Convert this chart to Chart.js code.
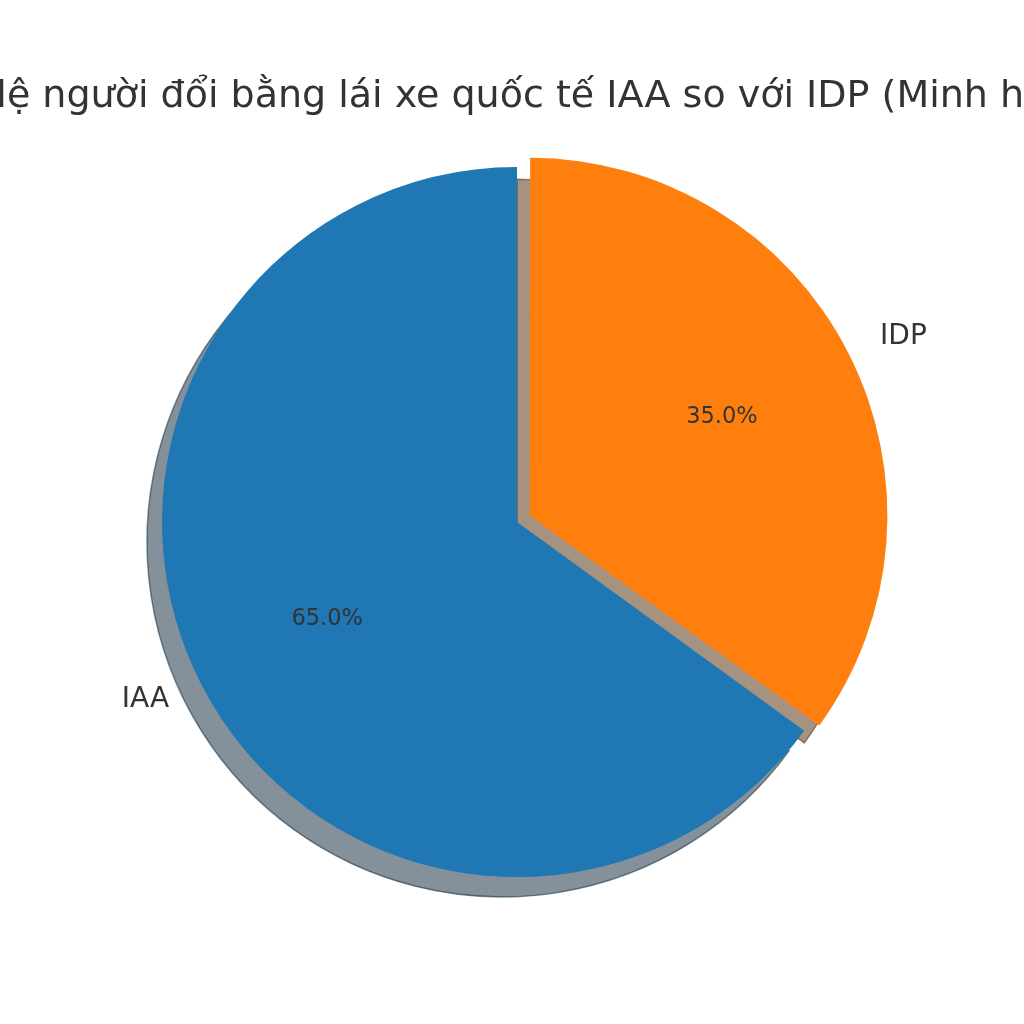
<!DOCTYPE html>
<html>
<head>
<meta charset="utf-8">
<title>Tỷ lệ IAA / IDP</title>
<script src="https://cdn.jsdelivr.net/npm/chart.js@4.4.1/dist/chart.umd.min.js"></script>
<style>
  html, body { margin: 0; padding: 0; background: #fff; }
  #pieChart { display: block; }
</style>
</head>
<body>
<canvas id="pieChart" width="1024" height="1024"></canvas>
<script>
// Dữ liệu
const titleText = 'Tỷ lệ người đổi bằng lái xe quốc tế IAA so với IDP (Minh họa)';
const labels = ['IAA', 'IDP'];
const values = [65, 35];
const colors = ['#1f77b4', '#ff7f0e'];
const shadeColors = ['rgba(9, 36, 54, 0.5)', 'rgba(77, 38, 4, 0.5)'];

const FONT = "'DejaVu Sans', sans-serif";
const textColor = '#333333';

// Chart.js dịch cung theo offset/4 cộng phần bù bán kính, tính lại giống vậy
function arcShift(arc) {
  const offset = (arc.options.offset || 0) / 4;
  const fix = 1 - Math.sin(Math.min(Math.PI, arc.circumference || 0));
  return offset * (1 + fix);
}

function arcGeom(arc) {
  const { x, y, startAngle, endAngle, outerRadius } = arc.getProps(['x', 'y', 'startAngle', 'endAngle', 'outerRadius'], true);
  const mid = (startAngle + endAngle) / 2;
  const shift = arcShift(arc);
  return {
    cx: x + Math.cos(mid) * shift,
    cy: y + Math.sin(mid) * shift,
    startAngle, endAngle, outerRadius, mid
  };
}

// Tiêu đề (không co chữ, bị cắt ở hai bên như ảnh gốc)
const titlePlugin = {
  id: 'bigTitle',
  afterDraw(chart) {
    const ctx = chart.ctx;
    ctx.save();
    ctx.font = `38px ${FONT}`;
    ctx.fillStyle = textColor;
    ctx.textAlign = 'center';
    ctx.textBaseline = 'alphabetic';
    ctx.fillText(titleText, 512, 107);
    ctx.restore();
  }
};

// Bóng đổ kiểu matplotlib (shadow=True)
const shadowPlugin = {
  id: 'pieShadow',
  beforeDatasetsDraw(chart) {
    const ctx = chart.ctx;
    const meta = chart.getDatasetMeta(0);
    meta.data.forEach((arc, i) => {
      const g = arcGeom(arc);
      const cx = g.cx - 15;
      const cy = g.cy + 20;
      ctx.save();
      ctx.beginPath();
      ctx.moveTo(cx, cy);
      ctx.arc(cx, cy, g.outerRadius, g.startAngle, g.endAngle);
      ctx.closePath();
      ctx.fillStyle = shadeColors[i];
      ctx.fill();
      ctx.lineWidth = 1.5;
      ctx.strokeStyle = shadeColors[i];
      ctx.stroke();
      ctx.restore();
    });
  }
};

// Nhãn và phần trăm
const labelPlugin = {
  id: 'pieLabels',
  afterDatasetsDraw(chart) {
    const ctx = chart.ctx;
    const meta = chart.getDatasetMeta(0);
    const total = values.reduce((a, b) => a + b, 0);
    meta.data.forEach((arc, i) => {
      const g = arcGeom(arc);
      const cos = Math.cos(g.mid), sin = Math.sin(g.mid);

      ctx.save();
      ctx.fillStyle = textColor;
      ctx.textBaseline = 'middle';

      ctx.font = `28px ${FONT}`;
      ctx.textAlign = cos >= 0 ? 'left' : 'right';
      ctx.fillText(labels[i], g.cx + cos * g.outerRadius * 1.1, g.cy + sin * g.outerRadius * 1.1);

      ctx.font = `22.5px ${FONT}`;
      ctx.textAlign = 'center';
      const pct = (values[i] / total * 100).toFixed(1) + '%';
      ctx.fillText(pct, g.cx + cos * g.outerRadius * 0.6, g.cy + sin * g.outerRadius * 0.6);
      ctx.restore();
    });
  }
};

const ctx = document.getElementById('pieChart').getContext('2d');
new Chart(ctx, {
  type: 'pie',
  data: {
    labels,
    datasets: [{
      data: values,
      backgroundColor: colors,
      borderWidth: 0,
      offset: [0, 57],
      hoverOffset: 0
    }]
  },
  options: {
    responsive: false,
    devicePixelRatio: 1,
    animation: false,
    events: [],
    rotation: 126,
    radius: 355,
    layout: {
      padding: { left: 80, right: 70, top: 100, bottom: 80 }
    },
    plugins: {
      legend: { display: false },
      title: { display: false },
      tooltip: { enabled: false }
    }
  },
  plugins: [shadowPlugin, labelPlugin, titlePlugin]
});
</script>
</body>
</html>
